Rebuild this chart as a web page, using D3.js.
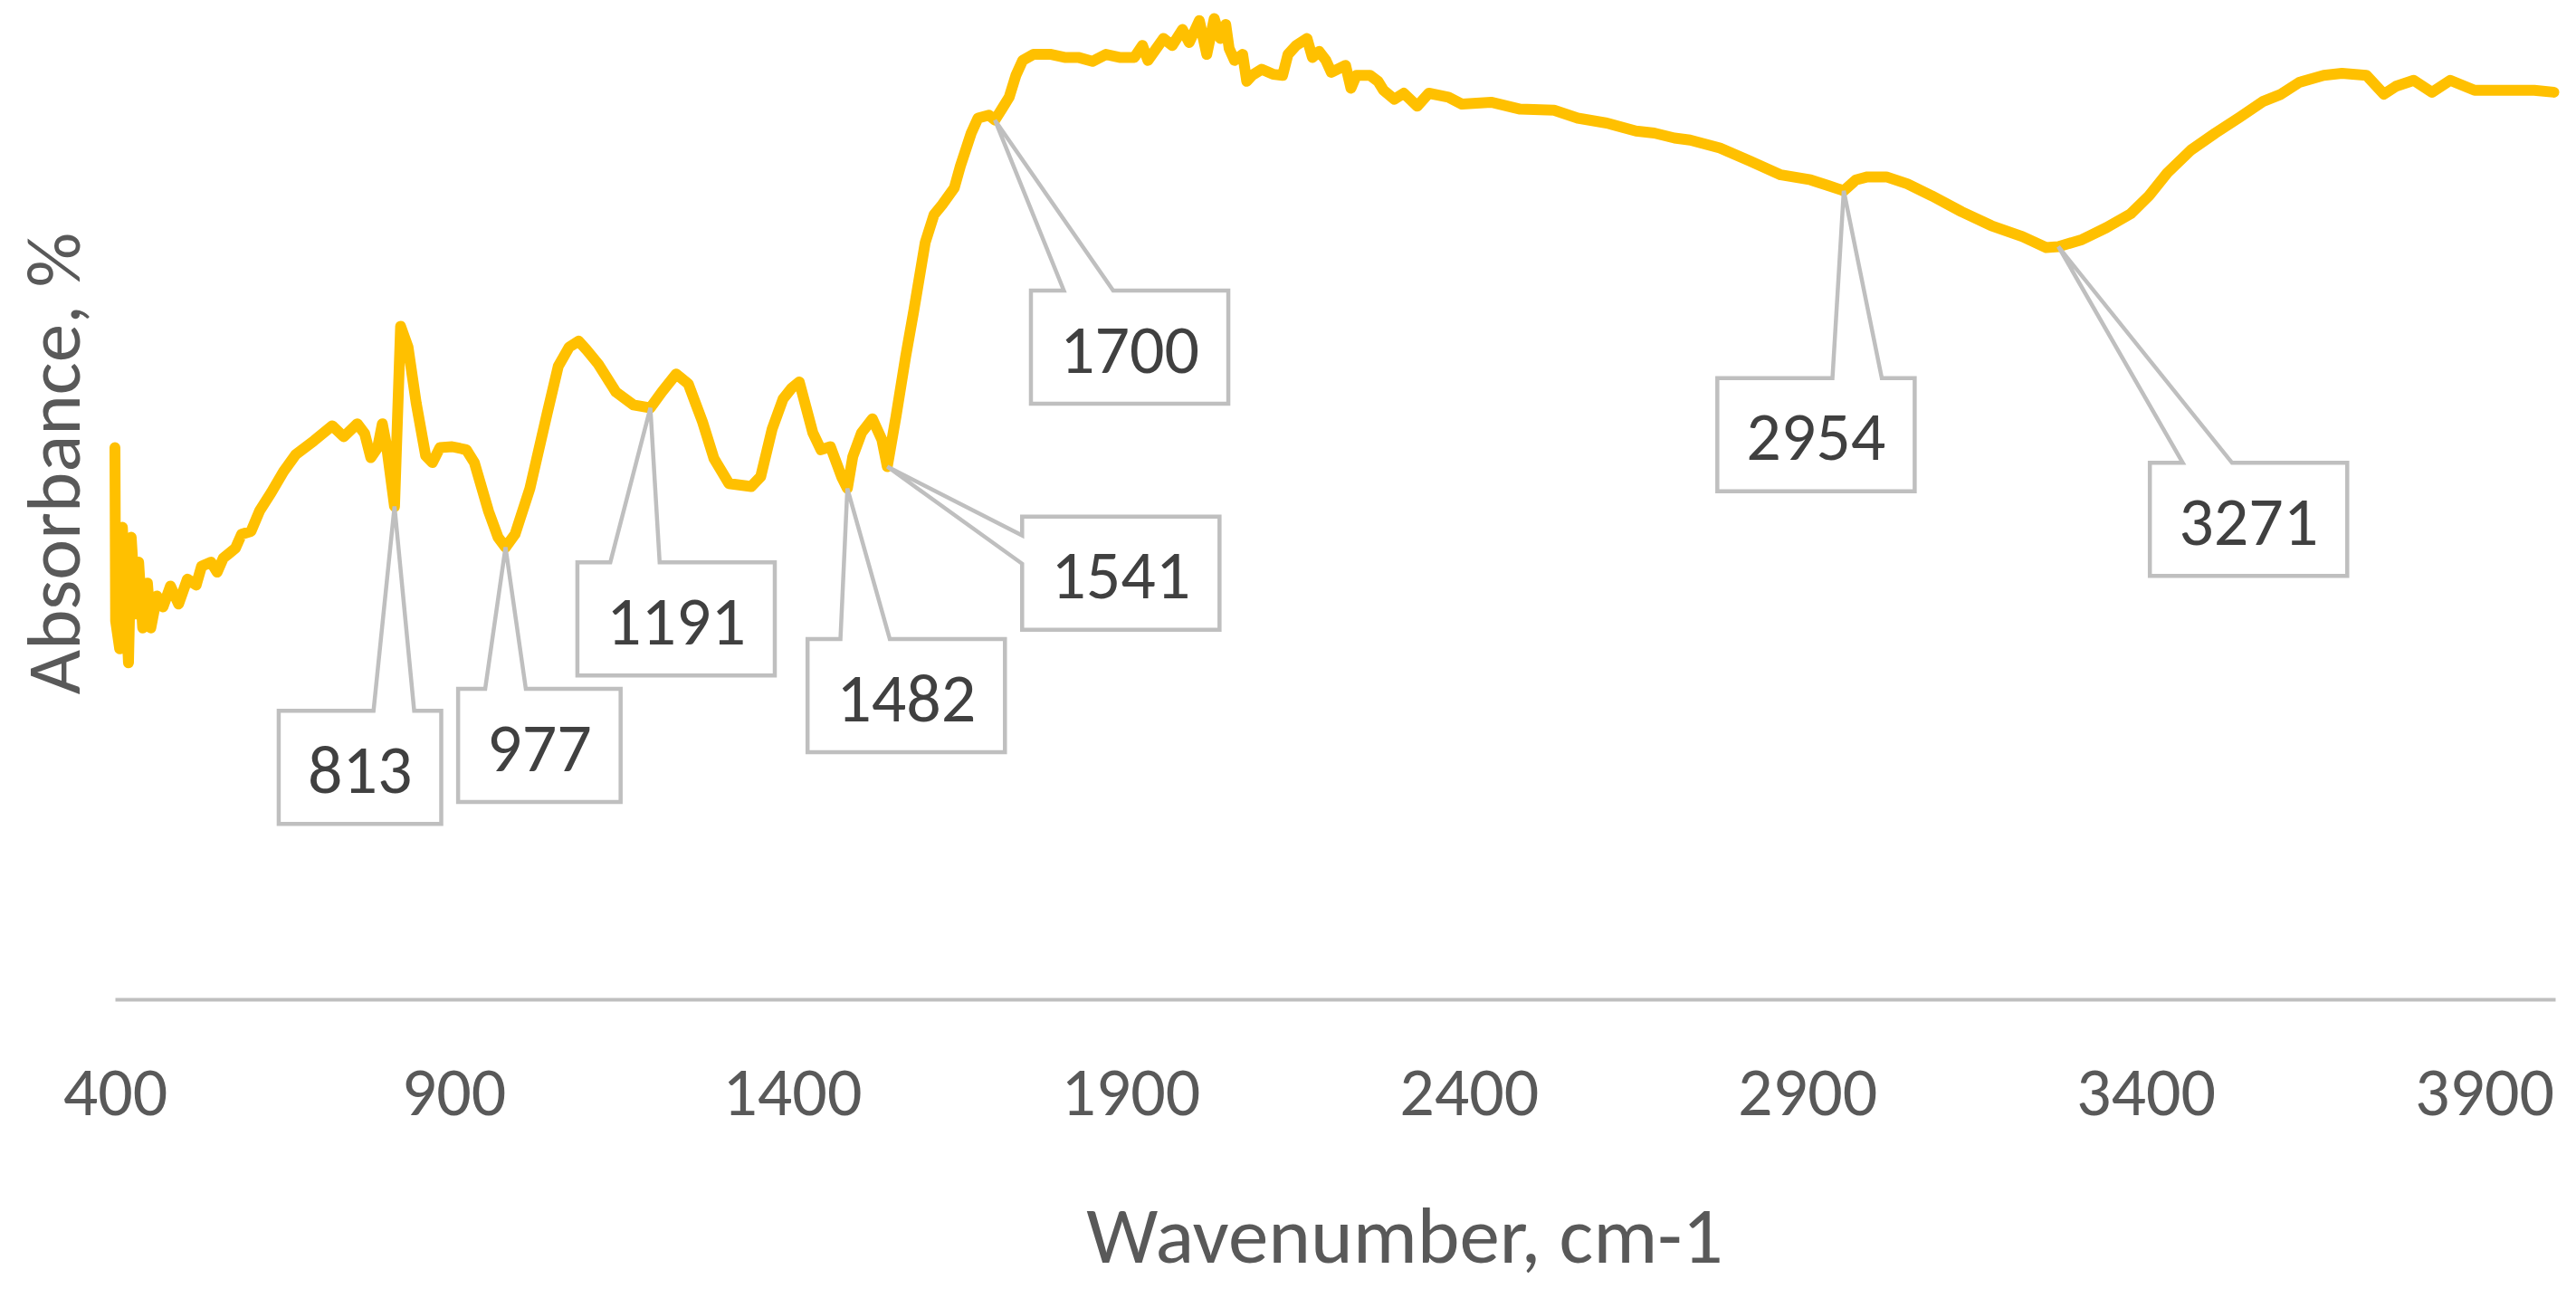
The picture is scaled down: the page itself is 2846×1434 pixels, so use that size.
<!DOCTYPE html>
<html>
<head>
<meta charset="utf-8">
<script src="https://cdn.jsdelivr.net/npm/d3@7"></script>
<style>
  html, body { margin: 0; padding: 0; background: #ffffff; }
  svg { display: block; }
</style>
</head>
<body>
<svg id="chart" width="2846" height="1434"></svg>
<script>
// ---------------- DATA ----------------
const wavenumber = [
  400, 401, 407, 411, 420, 424, 431, 435, 441, 448, 453, 462, 471, 482, 494, 507, 520, 528, 542, 551,
  560, 578, 587, 601, 614, 631, 649, 667, 694, 721, 738, 758, 769, 778, 788, 795, 801, 813, 822, 833,
  845, 859, 869, 880, 898, 919, 931, 952, 966, 977, 991, 1013, 1038, 1055, 1071, 1085, 1097, 1114, 1140, 1166,
  1191, 1208, 1229, 1247, 1268, 1285, 1307, 1340, 1354, 1371, 1387, 1400, 1411, 1431, 1443, 1457, 1474, 1482, 1490, 1503,
  1519, 1533, 1541, 1554, 1568, 1580, 1597, 1610, 1622, 1640, 1649, 1665, 1675, 1691, 1700, 1711, 1721, 1731, 1741, 1757,
  1783, 1803, 1823, 1844, 1864, 1884, 1906, 1918, 1926, 1949, 1962, 1977, 1987, 2002, 2013, 2024, 2033, 2041, 2046, 2054,
  2066, 2072, 2080, 2094, 2111, 2125, 2133, 2145, 2161, 2169, 2179, 2189, 2197, 2218, 2226, 2234, 2254, 2266, 2274, 2290,
  2304, 2324, 2341, 2370, 2390, 2433, 2476, 2526, 2561, 2604, 2647, 2674, 2704, 2727, 2771, 2815, 2861, 2905, 2932, 2954,
  2972, 2989, 3017, 3048, 3084, 3128, 3172, 3218, 3253, 3271, 3306, 3342, 3378, 3405, 3432, 3467, 3503, 3539, 3574, 3600,
  3627, 3663, 3690, 3726, 3752, 3770, 3796, 3823, 3850, 3886, 3930, 3974, 4003
];
const absorbance = [
  55.4, 38.0, 35.2, 47.4, 33.8, 46.4, 38.7, 43.9, 37.3, 41.8, 37.3, 40.5, 39.4, 41.5, 39.7, 42.2, 41.6, 43.5, 43.9, 42.9,
  44.3, 45.3, 46.7, 47.0, 49.1, 50.9, 53.0, 54.7, 56.1, 57.6, 56.5, 57.8, 56.8, 54.4, 55.4, 57.8, 55.7, 49.5, 67.6, 65.5,
  59.9, 54.6, 53.9, 55.4, 55.5, 55.2, 53.9, 49.0, 46.4, 45.4, 46.7, 51.3, 58.7, 63.6, 65.5, 66.1, 65.2, 63.8, 61.0, 59.7,
  59.4, 61.0, 62.8, 61.8, 58.0, 54.3, 51.8, 51.5, 52.5, 57.3, 60.3, 61.4, 62.0, 56.9, 55.2, 55.5, 52.4, 51.3, 54.5, 56.9,
  58.3, 56.2, 53.5, 58.6, 64.5, 69.1, 76.0, 78.8, 79.8, 81.5, 83.7, 87.0, 88.5, 88.8, 88.3, 89.5, 90.6, 92.8, 94.3, 94.9,
  94.9, 94.6, 94.6, 94.2, 94.9, 94.6, 94.6, 95.8, 94.3, 96.5, 95.8, 97.4, 96.1, 98.3, 94.9, 98.5, 96.5, 97.9, 95.5, 94.3,
  94.9, 92.2, 92.8, 93.4, 92.9, 92.8, 94.9, 95.8, 96.5, 94.6, 95.2, 94.3, 93.1, 93.8, 91.5, 92.8, 92.8, 92.2, 91.3, 90.4,
  91.0, 89.7, 91.0, 90.6, 89.9, 90.1, 89.4, 89.3, 88.5, 88.0, 87.2, 87.0, 86.5, 86.3, 85.5, 84.2, 82.8, 82.3, 81.7, 81.2,
  82.3, 82.6, 82.6, 81.9, 80.7, 79.1, 77.7, 76.6, 75.5, 75.6, 76.3, 77.5, 78.9, 80.7, 83.0, 85.3, 87.0, 88.6, 90.2, 90.9,
  92.1, 92.8, 93.0, 92.8, 90.9, 91.7, 92.3, 91.1, 92.3, 91.3, 91.3, 91.3, 91.1
];
const xTickLabels = [400, 900, 1400, 1900, 2400, 2900, 3400, 3900];
const peakLabels = [813, 977, 1191, 1482, 1541, 1700, 2954, 3271];

// callout box centres, in data coordinates (wavenumber, absorbance)
const calloutBoxWn  = [762, 1027, 1229, 1569, 1886, 1899, 2913, 3552];
const calloutBoxAbs = [23.3, 25.5, 38.2, 30.5, 42.8, 65.5, 56.7, 48.2];

const xTitle = "Wavenumber, cm-1";
const yTitle = "Absorbance, %";

// ---------------- LAYOUT / STYLE ----------------
const FONT = "Carlito, Calibri, 'Liberation Sans', Arial, sans-serif";
const svg = d3.select("#chart");

const x = d3.scaleLinear().domain([400, 4005]).range([127, 2823]);
const y = d3.scaleLinear().domain([0, 100]).range([1104, 4]);

const data = wavenumber.map((w, i) => ({ w, a: absorbance[i] }));

// x axis
const xAxis = d3.axisBottom(x)
  .tickValues(xTickLabels)
  .tickFormat(d3.format("d"))
  .tickSize(0)
  .tickSizeOuter(0)
  .tickPadding(74);

const gx = svg.append("g")
  .attr("transform", `translate(0,${y(0)})`)
  .call(xAxis);
gx.select(".domain").attr("stroke", "#BFBFBF").attr("stroke-width", 4);
gx.selectAll(".tick text")
  .attr("fill", "#595959")
  .style("font-family", FONT)
  .style("font-size", "76px");

// line
const line = d3.line().x(d => x(d.w)).y(d => y(d.a));
svg.append("path")
  .datum(data)
  .attr("d", line)
  .attr("fill", "none")
  .attr("stroke", "#FFC000")
  .attr("stroke-width", 12)
  .attr("stroke-linejoin", "round")
  .attr("stroke-linecap", "round");

// callouts (wedge rectangle callouts)
function wedgeRect(l, t, w, h, xPos, yPos) {
  const r = l + w, b = t + h;
  const hc = l + w / 2, vc = t + h / 2;
  const dx = xPos - hc, dy = yPos - vc;
  const dq = dx * h / w;
  const dz = Math.abs(dy) - Math.abs(dq);
  const x1 = l + w * (dx > 0 ? 7 : 2) / 12, x2 = l + w * (dx > 0 ? 10 : 5) / 12;
  const y1 = t + h * (dy > 0 ? 7 : 2) / 12, y2 = t + h * (dy > 0 ? 10 : 5) / 12;
  const p = d3.path();
  p.moveTo(l, t);
  if (dz > 0 && dy < 0) { p.lineTo(x1, t); p.lineTo(xPos, yPos); p.lineTo(x2, t); }
  p.lineTo(r, t);
  if (dz <= 0 && dx > 0) { p.lineTo(r, y1); p.lineTo(xPos, yPos); p.lineTo(r, y2); }
  p.lineTo(r, b);
  if (dz > 0 && dy > 0) { p.lineTo(x2, b); p.lineTo(xPos, yPos); p.lineTo(x1, b); }
  p.lineTo(l, b);
  if (dz <= 0 && dx < 0) { p.lineTo(l, y2); p.lineTo(xPos, yPos); p.lineTo(l, y1); }
  p.closePath();
  return p.toString();
}

const gc = svg.append("g");
peakLabels.forEach((pk, i) => {
  const pt = data.reduce((best, d) => Math.abs(d.w - pk) < Math.abs(best.w - pk) ? d : best, data[0]);
  const tx = x(pt.w), ty = y(pt.a);
  const cx = x(calloutBoxWn[i]), cy = y(calloutBoxAbs[i]);
  const g = gc.append("g");
  const path = g.append("path");
  const txt = g.append("text")
    .attr("x", cx).attr("y", cy + 28)
    .attr("text-anchor", "middle")
    .attr("fill", "#404040")
    .style("font-family", FONT)
    .style("font-size", "76px")
    .text(String(pk));
  const tw = txt.node().getComputedTextLength();
  const bw = tw + 64, bh = 125;
  path.attr("d", wedgeRect(cx - bw / 2, cy - bh / 2, bw, bh, tx, ty))
    .attr("fill", "#ffffff")
    .attr("stroke", "#BFBFBF")
    .attr("stroke-width", 4.5)
    .attr("stroke-linejoin", "miter");
});

// axis titles
svg.append("text")
  .attr("x", 1552).attr("y", 1395)
  .attr("text-anchor", "middle")
  .attr("fill", "#595959")
  .style("font-family", FONT)
  .style("font-size", "89px")
  .text(xTitle);

svg.append("text")
  .attr("transform", "translate(88,512) rotate(-90)")
  .attr("text-anchor", "middle")
  .attr("fill", "#595959")
  .style("font-family", FONT)
  .style("font-size", "85px")
  .text(yTitle);
</script>
</body>
</html>
